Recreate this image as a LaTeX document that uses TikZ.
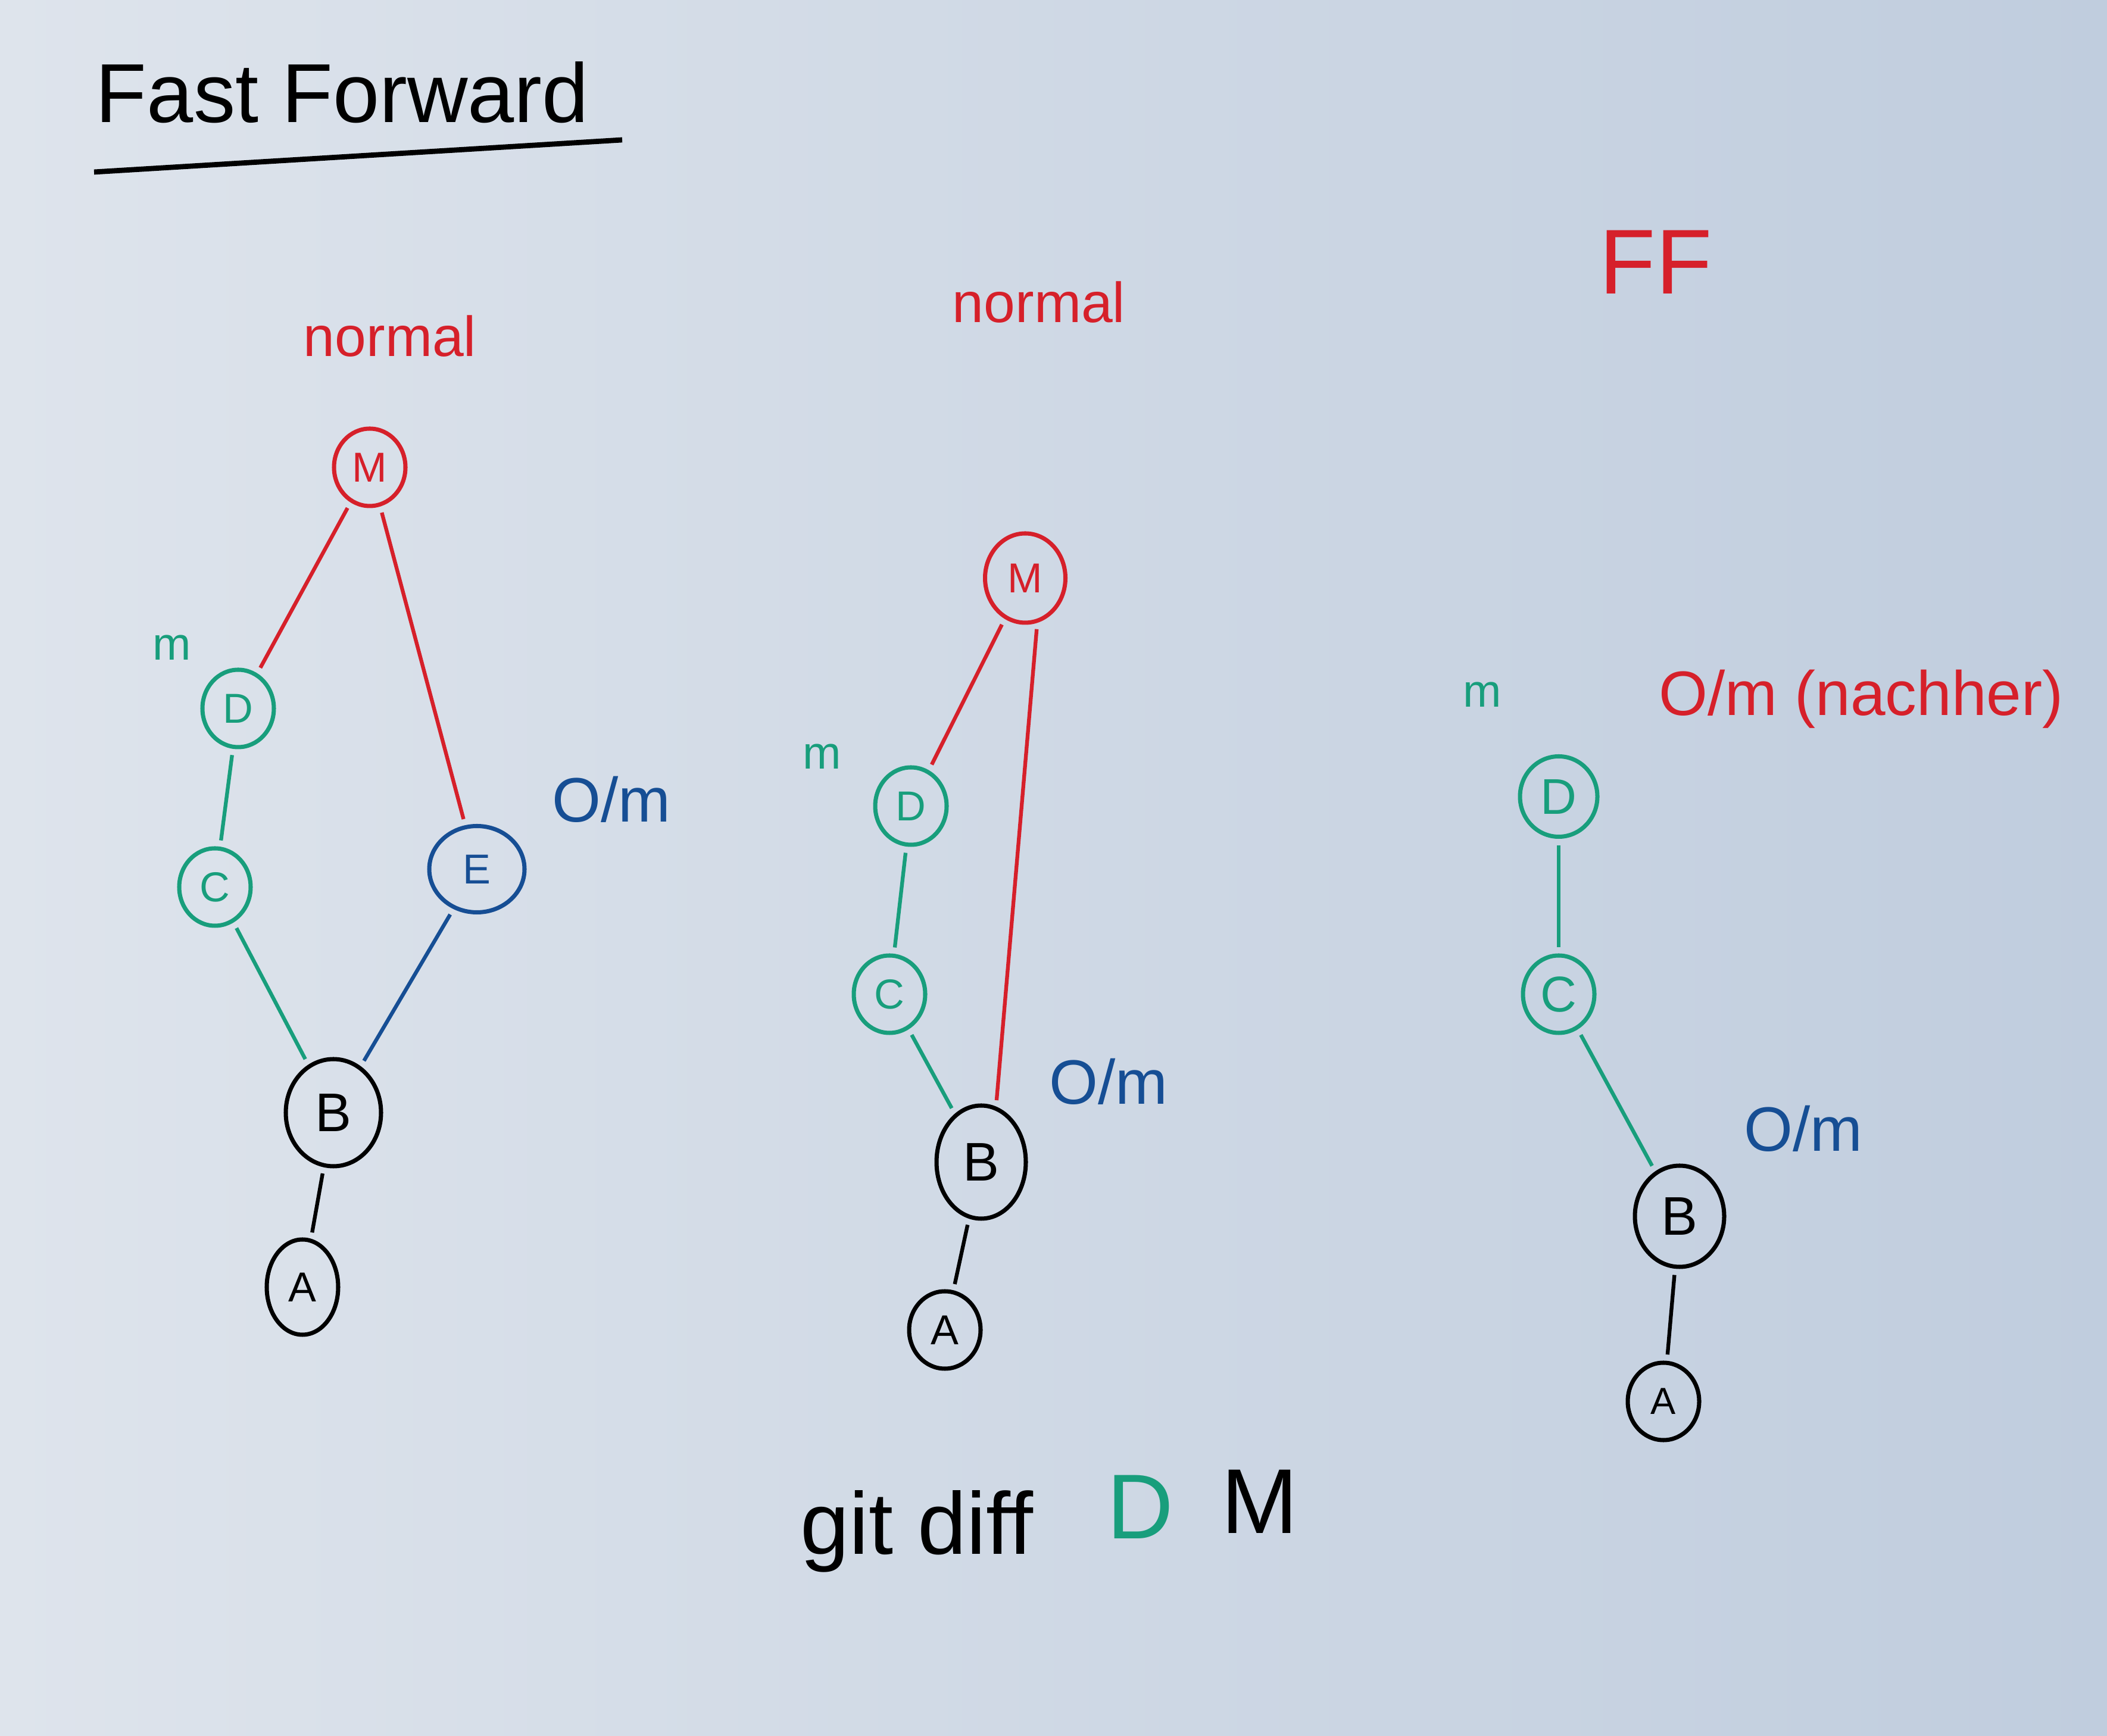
\documentclass[tikz,border=0pt]{standalone}
\usepackage{fontspec}
\setmainfont{Liberation Sans}
\usetikzlibrary{shapes.geometric}
\definecolor{board}{RGB}{192,205,222}
\definecolor{boardlight}{RGB}{222,228,236}
\definecolor{penred}{RGB}{214,32,42}
\definecolor{pengreen}{RGB}{24,158,124}
\definecolor{penblue}{RGB}{22,78,148}
\tikzset{
  commit/.style={ellipse,draw,line width=2pt,minimum width=1.2cm,minimum height=1.3cm,inner sep=0pt,font=\fontsize{20}{22}\selectfont},
  bigcommit/.style={commit,minimum width=1.6cm,minimum height=1.8cm,font=\fontsize{26}{28}\selectfont},
  link/.style={line width=1.8pt,shorten <=3pt,shorten >=3pt},
  lbl/.style={font=\fontsize{30}{34}\selectfont},
  small/.style={font=\fontsize{22}{24}\selectfont},
}
\begin{document}
\begin{tikzpicture}
                        \shade[left color=boardlight,right color=board] (0,0) rectangle (35.39,29.15);
                        \useasboundingbox (0,0) rectangle (35.39,29.15);
                        \draw (5.75,27.60) node[font=\fontsize{40}{44}\selectfont] (title) {Fast Forward};
                        \draw[line width=2.5pt] (1.58,26.26) coordinate (ulA) -- (10.45,26.80) coordinate (ulB);
                        % normal merge
                        \draw (6.55,23.50) node[lbl,penred,font=\fontsize{27}{30}\selectfont] (normalA) {normal};
                        \draw (6.21,21.30) node[commit,penred] (MA) {M};
                        \draw (4.00,17.25) node[commit,pengreen] (DA) {D};
                        \draw (3.61,14.25) node[commit,pengreen] (CA) {C};
                        \draw (8.01,14.55) node[commit,penblue,minimum width=1.6cm,minimum height=1.45cm] (EA) {E};
                        \draw (5.60,10.46) node[bigcommit] (BA) {B};
                        \draw (5.08,7.53) node[commit,minimum height=1.6cm] (AA) {A};
                        \draw (2.89,18.27) node[small,pengreen] (mA) {m};
                        \draw (10.27,15.72) node[lbl,penblue] (omA) {O/m};
                        \draw[link,penred] (MA) -- (DA);
                        \draw[link,penred] (MA) -- (EA);
                        \draw[link,pengreen] (DA) -- (CA);
                        \draw[link,pengreen] (CA) -- (BA);
                        \draw[link,penblue] (EA) -- (BA);
                        \draw[link] (BA) -- (AA);
                        % normal merge, o/m still on B
                        \draw (17.45,24.07) node[lbl,penred,font=\fontsize{27}{30}\selectfont] (normalB) {normal};
                        \draw (17.22,19.44) node[commit,penred,minimum width=1.35cm,minimum height=1.5cm] (MB) {M};
                        \draw (15.30,15.61) node[commit,pengreen] (DB) {D};
                        \draw (14.94,12.45) node[commit,pengreen] (CB) {C};
                        \draw (16.48,9.63) node[bigcommit,minimum width=1.5cm,minimum height=1.9cm] (BB) {B};
                        \draw (15.87,6.81) node[commit] (AB) {A};
                        \draw (13.81,16.44) node[small,pengreen] (mB) {m};
                        \draw (18.62,10.98) node[lbl,penblue] (omB) {O/m};
                        \draw[link,penred] (MB) -- (DB);
                        \draw[link,penred] (MB.-75) -- (BB.75);
                        \draw[link,pengreen] (DB) -- (CB);
                        \draw[link,pengreen] (CB) -- (BB);
                        \draw[link] (BB) -- (AB);
                        % fast forward
                        \draw (27.81,24.75) node[penred,font=\fontsize{44}{48}\selectfont] (ff) {FF};
                        \draw (26.18,15.77) node[commit,pengreen,minimum width=1.3cm,minimum height=1.35cm,font=\fontsize{24}{26}\selectfont] (DC) {D};
                        \draw (26.18,12.45) node[commit,pengreen,font=\fontsize{24}{26}\selectfont] (CC) {C};
                        \draw (28.21,8.72) node[bigcommit,minimum width=1.5cm,minimum height=1.7cm] (BC) {B};
                        \draw (27.94,5.61) node[commit,font=\fontsize{18}{20}\selectfont] (AC) {A};
                        \draw (24.90,17.48) node[small,pengreen] (mC) {m};
                        \draw (31.26,17.41) node[lbl,penred] (omC) {O/m (nachher)};
                        \draw (30.29,10.19) node[lbl,penblue] (omD) {O/m};
                        \draw[link,pengreen] (DC) -- (CC);
                        \draw[link,pengreen] (CC) -- (BC);
                        \draw[link] (BC) -- (AC);
                        % diff
                        \draw (13.32,3.05) node[anchor=base west,font=\fontsize{42}{46}\selectfont] (gitdiff) {git diff};
                        \draw (19.15,3.30) node[anchor=base,pengreen,font=\fontsize{44}{48}\selectfont] (diffD) {D};
                        \draw (21.16,3.40) node[anchor=base,font=\fontsize{44}{48}\selectfont] (diffM) {M};
\end{tikzpicture}
\end{document}
